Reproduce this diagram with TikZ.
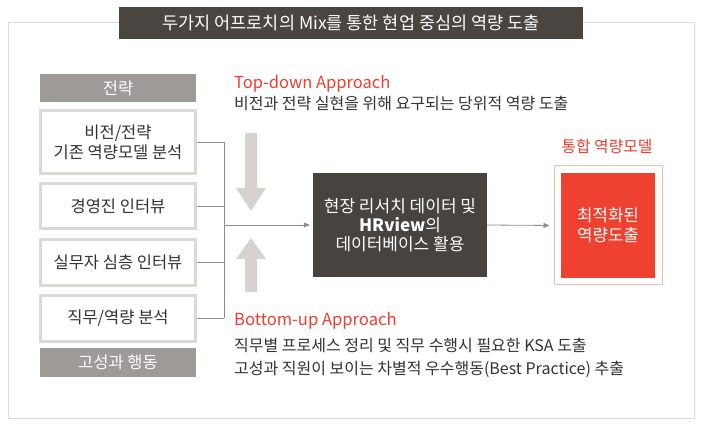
\documentclass[tikz,border=0pt]{standalone}
\usepackage{fontspec}
\setmainfont{Noto Sans CJK KR}
\usetikzlibrary{arrows.meta}
\definecolor{frameg}{HTML}{D9D9D9}
\definecolor{titlebg}{HTML}{4A4541}
\definecolor{boxline}{HTML}{DCD8D6}
\definecolor{headbg}{HTML}{9E9A97}
\definecolor{txt}{HTML}{333333}
\definecolor{redt}{HTML}{EF3E2E}
\definecolor{redfill}{HTML}{EF4130}
\definecolor{redline}{HTML}{F7B9B2}
\definecolor{arrowg}{HTML}{D6D2D0}
\definecolor{connc}{HTML}{8C8C8C}
\definecolor{midbg}{HTML}{48433F}
\tikzset{
  srcbox/.style={draw=boxline, line width=3pt, fill=white, minimum width=155pt, text=txt, align=center, inner sep=0pt, font=\fontsize{16.5}{20}\selectfont},
  headbox/.style={fill=headbg, minimum width=156pt, text=white, inner sep=0pt, font=\fontsize{16.5}{19}\selectfont},
  conn/.style={draw=connc, line width=0.8pt},
  connarrow/.style={conn, -{Triangle[length=6pt,width=5pt]}},
  redlabel/.style={text=redt, inner sep=0pt},
  bodytext/.style={text=txt, inner sep=0pt, font=\fontsize{16}{19}\selectfont}
}
\begin{document}
\begin{tikzpicture}[x=1pt,y=-1pt]
\useasboundingbox (0,0) rectangle (704,427);
\fill[white] (0,0) rectangle (704,427);
% frame
\draw[frameg, line width=1pt] (8,23) rectangle (694,418);
% title
\node[fill=titlebg, minimum width=464pt, minimum height=32pt, inner sep=0pt, text=white, font=\fontsize{17.5}{19}\selectfont] (title) at (351,23) {두가지 어프로치의 Mix를 통한 현업 중심의 역량 도출};
% left column
\node[headbox, minimum height=28pt] (h1) at (118,88) {전략};
\node[srcbox, minimum height=63pt] (b1) at (118,142) {비전/전략\\기존 역량모델 분석};
\node[srcbox, minimum height=45pt] (b2) at (118,206) {경영진 인터뷰};
\node[srcbox, minimum height=46pt] (b3) at (118,262.5) {실무자 심층 인터뷰};
\node[srcbox, minimum height=46pt] (b4) at (118,318.5) {직무/역량 분석};
\node[headbox, minimum height=29pt] (h2) at (118,362.5) {고성과 행동};
% middle box
\node[fill=midbg, minimum width=174pt, minimum height=104pt, inner sep=0pt, text=white, align=center, font=\fontsize{17}{19}\selectfont] (mid) at (400,225) {현장 리서치 데이터 및\\{\bfseries HRview}의\\데이터베이스 활용};
% result
\node[draw=redline, line width=1pt, minimum width=108pt, minimum height=119pt, inner sep=0pt] (resout) at (608,225.5) {};
\node[fill=redfill, minimum width=94pt, minimum height=105pt, inner sep=0pt, text=white, align=center, font=\fontsize{16.8}{20}\selectfont] (res) at (608,225.5) {최적화된\\역량도출};
\node[redlabel, font=\fontsize{15.8}{19}\selectfont] (reslabel) at (607,147) {통합 역량모델};
% connectors
\coordinate (sp) at (224,225);
\draw[conn] (b1.east) -- (b1.east -| sp);
\draw[conn] (b2.east) -- (b2.east -| sp);
\draw[conn] (b3.east) -- (b3.east -| sp);
\draw[conn] (b4.east) -- (b4.east -| sp);
\draw[conn] (b1.east -| sp) -- (b4.east -| sp);
\draw[connarrow, shorten >=3pt] (sp) -- (mid.west);
\draw[connarrow, shorten >=4pt] (mid.east) -- (resout.west);
% big gray arrows
\fill[arrowg] (245,133) -- (257,133) -- (257,188) -- (266,188) -- (251,211) -- (236,188) -- (245,188) -- cycle;
\fill[arrowg] (245,292) -- (257,292) -- (257,259) -- (266,259) -- (251,238) -- (236,259) -- (245,259) -- cycle;
% approach texts
\node[redlabel, anchor=base west, font=\fontsize{16.5}{19}\selectfont] (td) at (234,89) {Top-down Approach};
\node[bodytext, anchor=base west] (tdtext) at (234,110) {비전과 전략 실현을 위해 요구되는 당위적 역량 도출};
\node[redlabel, anchor=base west, font=\fontsize{16.6}{19}\selectfont] (bu) at (234,326) {Bottom-up Approach};
\node[bodytext, anchor=base west] (butext1) at (234,352) {직무별 프로세스 정리 및 직무 수행시 필요한 KSA 도출};
\node[bodytext, anchor=base west] (butext2) at (234,374) {고성과 직원이 보이는 차별적 우수행동(Best Practice) 추출};
\end{tikzpicture}
\end{document}
